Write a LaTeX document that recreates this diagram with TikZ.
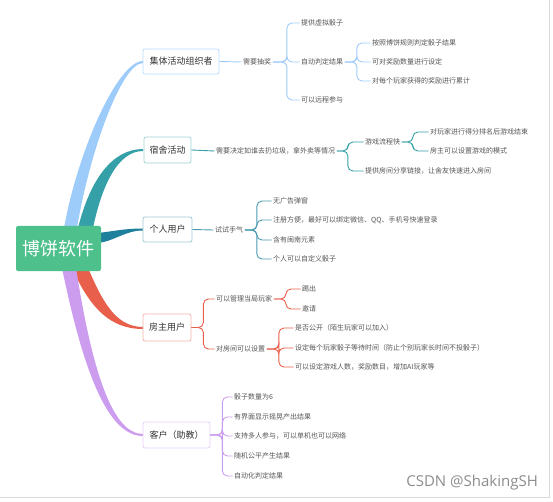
\documentclass[tikz,border=0pt]{standalone}
\usepackage{fontspec}
\newfontfamily\cjk{Noto Sans CJK SC}
\newfontfamily\wm{Open Sans}
\definecolor{cA}{HTML}{9DCBFA}
\definecolor{cAb}{HTML}{B9DBFF}
\definecolor{cB}{HTML}{36A0A8}
\definecolor{cBb}{HTML}{A3D3D7}
\definecolor{cC}{HTML}{1F809E}
\definecolor{cCb}{HTML}{9CCAD8}
\definecolor{cD}{HTML}{E8604C}
\definecolor{cDb}{HTML}{F4B3A9}
\definecolor{cE}{HTML}{CC9DEE}
\definecolor{cEb}{HTML}{E6CFF7}
\definecolor{rootg}{HTML}{4EC08C}
\definecolor{txt}{HTML}{555555}
\definecolor{edge}{HTML}{DADADA}
\tikzset{
  box/.style={draw, fill=white, rounded corners=2pt, line width=0.8pt, inner sep=0pt,
     font=\cjk\fontsize{9}{10}\selectfont, text=black!80},
  leaf/.style={anchor=west, inner sep=1.5pt, font=\cjk\fontsize{7}{8}\selectfont, text=txt},
  lnk/.style={line width=0.9pt, rounded corners=5pt},
}
\begin{document}
\begin{tikzpicture}[x=1pt,y=-1pt]
\useasboundingbox (0,0) rectangle (553,502);
\draw[edge, line width=0.8pt] (549,0) -- (549,497) -- (0,497);
% tapered main connectors
\fill[cA] (64,228) .. controls (78,150) and (118,61) .. (143,61) -- (143,63) .. controls (122,63) and (90,150) .. (77,228) -- cycle;
\fill[cB] (78,228) .. controls (90,180) and (112,149) .. (143,149) -- (143,151) .. controls (118,151) and (102,185) .. (93,228) -- cycle;
\fill[cC] (98,233) .. controls (115,231) and (125,228.5) .. (143,228.5) -- (143,230.5) .. controls (125,230.5) and (115,241) .. (98,243) -- cycle;
\fill[cD] (72,268) .. controls (90,308) and (110,329) .. (143,329) -- (143,327) .. controls (115,327) and (102,300) .. (88,268) -- cycle;
\fill[cE] (62,268) .. controls (85,380) and (110,436) .. (143,436) -- (143,434) .. controls (112,434) and (92,370) .. (76,268) -- cycle;
% root
\node[fill=rootg, rounded corners=2pt, minimum width=85pt, minimum height=45pt, inner sep=0pt,
  text=white, font=\cjk\fontsize{18}{20}\selectfont] (root) at (58.5,248.5) {博饼软件};

% ---------- branch 1
\node[box, draw=cAb, minimum width=76pt, minimum height=25pt] (b1) at (181,61.5) {集体活动组织者};
\node[leaf] (l1) at (241.5,62) {需要抽奖};
\draw[lnk, cA] (b1.east) -- (l1.west);
\node[leaf] (c11) at (299.5,23) {提供虚拟骰子};
\node[leaf] (c12) at (299.5,62) {自动判定结果};
\node[leaf] (c13) at (299.5,100) {可以远程参与};
\foreach \c in {c11,c12,c13} \draw[lnk, cA] (l1.east) -- ++(14,0) |- (\c.west);
\node[leaf] (c121) at (370.5,43) {按照博饼规则判定骰子结果};
\node[leaf] (c122) at (370.5,62) {可对奖励数量进行设定};
\node[leaf] (c123) at (370.5,81) {对每个玩家获得的奖励进行累计};
\foreach \c in {c121,c122,c123} \draw[lnk, cA] (c12.east) -- ++(12,0) |- (\c.west);

% ---------- branch 2
\node[box, draw=cBb, minimum width=47pt, minimum height=26pt] (b2) at (167.5,150) {宿舍活动};
\node[leaf] (l2) at (214.5,151) {需要决定如谁去扔垃圾，拿外卖等情况};
\draw[lnk, cB] (b2.east) -- (l2.west);
\node[leaf] (c21) at (363.5,142) {游戏流程快};
\node[leaf] (c22) at (363.5,171) {提供房间分享链接，让舍友快速进入房间};
\foreach \c in {c21,c22} \draw[lnk, cB] (l2.east) -- ++(11,0) |- (\c.west);
\node[leaf] (c211) at (428.5,132) {对玩家进行得分排名后游戏结束};
\node[leaf] (c212) at (428.5,151) {房主可以设置游戏的模式};
\foreach \c in {c211,c212} \draw[lnk, cB] (c21.east) -- ++(11,0) |- (\c.west);

% ---------- branch 3
\node[box, draw=cCb, minimum width=49pt, minimum height=25pt] (b3) at (167.5,229.5) {个人用户};
\node[leaf] (l3) at (213.5,230) {试试手气};
\draw[lnk, cC!80] (b3.east) -- (l3.west);
\node[leaf] (c31) at (271.5,201) {无广告弹窗};
\node[leaf] (c32) at (271.5,220) {注册方便，最好可以绑定微信、QQ、手机号快速登录};
\node[leaf] (c33) at (271.5,240) {含有闽南元素};
\node[leaf] (c34) at (271.5,259) {个人可以自定义骰子};
\foreach \c in {c31,c32,c33,c34} \draw[lnk, cC!80] (l3.east) -- ++(12,0) |- (\c.west);

% ---------- branch 4
\node[box, draw=cDb, minimum width=48pt, minimum height=27pt] (b4) at (167,327.5) {房主用户};
\node[leaf] (c41) at (214.5,299) {可以管理当局玩家};
\node[leaf] (c42) at (214.5,349) {对房间可以设置};
\foreach \c in {c41,c42} \draw[lnk, cD] (b4.east) -- ++(12,0) |- (\c.west);
\node[leaf] (c411) at (300.5,289) {踢出};
\node[leaf] (c412) at (300.5,309) {邀请};
\foreach \c in {c411,c412} \draw[lnk, cD] (c41.east) -- ++(12,0) |- (\c.west);
\node[leaf] (c421) at (293.5,328) {是否公开（陌生玩家可以加入）};
\node[leaf] (c422) at (293.5,348) {设定每个玩家骰子等待时间（防止个别玩家长时间不投骰子）};
\node[leaf] (c423) at (293.5,367) {可以设定游戏人数，奖励数目，增加AI玩家等};
\foreach \c in {c421,c422,c423} \draw[lnk, cD] (c42.east) -- ++(12,0) |- (\c.west);

% ---------- branch 5
\node[box, draw=cEb, minimum width=67pt, minimum height=26pt] (b5) at (176.5,435) {客户（助教）};
\node[leaf] (c51) at (232.5,397) {骰子数量为6};
\node[leaf] (c52) at (232.5,417) {有界面显示摇晃产出结果};
\node[leaf] (c53) at (232.5,436) {支持多人参与，可以单机也可以网络};
\node[leaf] (c54) at (232.5,456) {随机公平产生结果};
\node[leaf] (c55) at (232.5,476) {自动化判定结果};
\foreach \c in {c51,c52,c53,c54,c55} \draw[lnk, cE] (b5.east) -- ++(12,0) |- (\c.west);

% watermark
\node[anchor=east, inner sep=0pt, text=black!45, font=\wm\fontsize{15}{16}\selectfont] (wmk) at (538,483) {CSDN @ShakingSH};
\end{tikzpicture}
\end{document}
